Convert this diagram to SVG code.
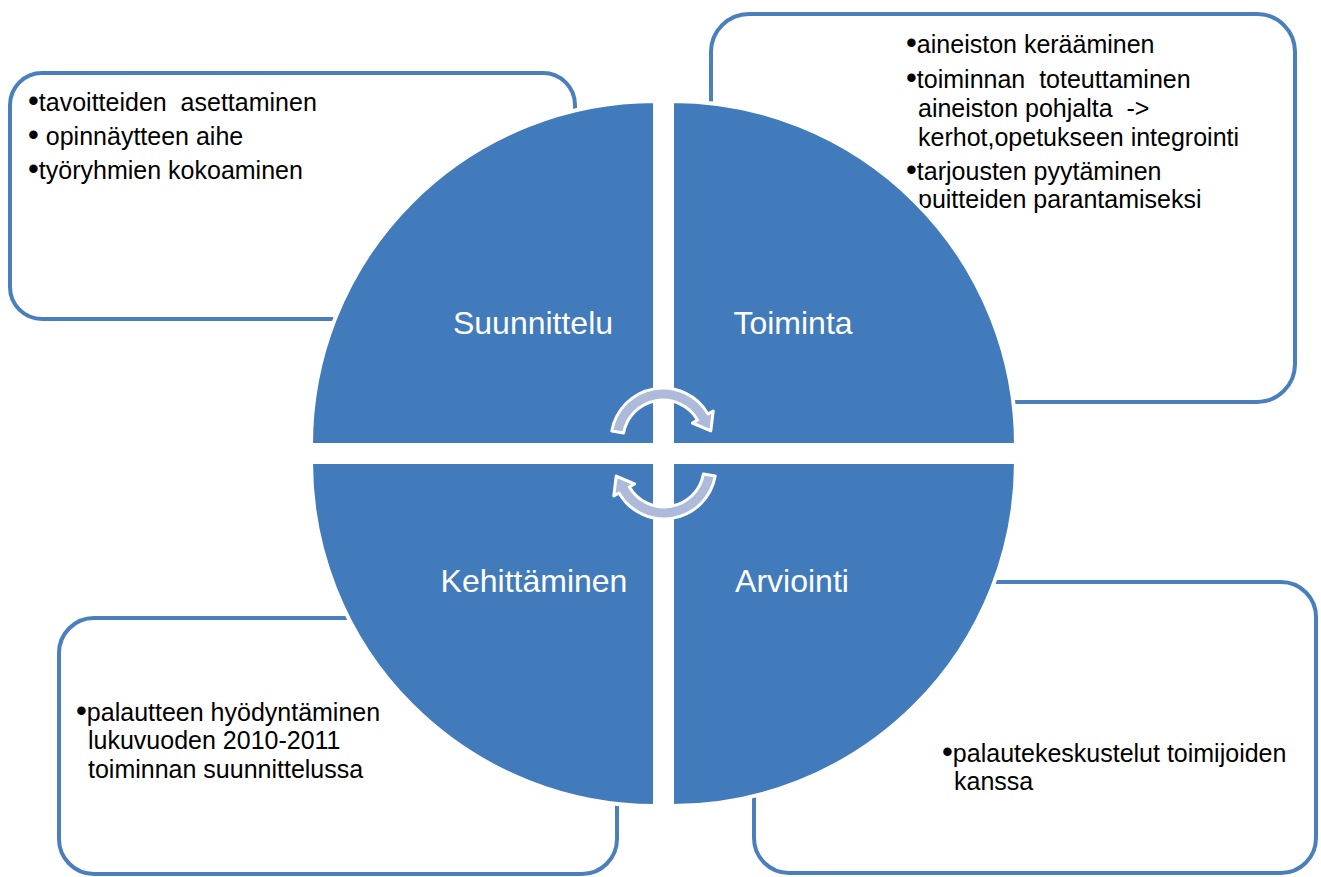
<svg xmlns="http://www.w3.org/2000/svg" width="1321" height="877" viewBox="0 0 1321 877">
<style>
.box{fill:#fff;stroke:#4a7ebc;stroke-width:4}
.q{fill:#427bbb;stroke:#fff;stroke-width:4}
.t{font-family:"Liberation Sans",Arial,sans-serif;font-size:25px;fill:#000}
.b{font-size:31px}
.lbl{font-family:"Liberation Sans",Arial,sans-serif;font-size:32px;fill:#fff;text-anchor:middle}
.arr{fill:#adbad9;stroke:#fff;stroke-width:3;stroke-linejoin:round}
</style>
<rect width="1321" height="877" fill="#fff"/>
<g id="box-suunnittelu">
<rect class="box" x="10" y="73" width="565" height="246" rx="32"/>
<text class="t" xml:space="preserve" x="28" y="111"><tspan class="b">•</tspan>tavoitteiden  asettaminen</text>
<text class="t" xml:space="preserve" x="28" y="145"><tspan class="b">•</tspan> opinnäytteen aihe</text>
<text class="t" xml:space="preserve" x="28" y="179"><tspan class="b">•</tspan>työryhmien kokoaminen</text>
</g>
<g id="box-toiminta">
<rect class="box" x="711" y="14" width="584" height="388" rx="38"/>
<text class="t" xml:space="preserve" x="906" y="53"><tspan class="b">•</tspan>aineiston kerääminen</text>
<text class="t" xml:space="preserve" x="906" y="88"><tspan class="b">•</tspan>toiminnan  toteuttaminen</text>
<text class="t" xml:space="preserve" x="918" y="117">aineiston pohjalta  -&gt;</text>
<text class="t" xml:space="preserve" x="918" y="146">kerhot,opetukseen integrointi</text>
<text class="t" xml:space="preserve" x="906" y="180"><tspan class="b">•</tspan>tarjousten pyytäminen</text>
<text class="t" xml:space="preserve" x="918" y="208">puitteiden parantamiseksi</text>
</g>
<g id="box-kehittaminen">
<rect class="box" x="59" y="618" width="558" height="256" rx="35"/>
<text class="t" xml:space="preserve" x="76" y="721"><tspan class="b">•</tspan>palautteen hyödyntäminen</text>
<text class="t" xml:space="preserve" x="88" y="749">lukuvuoden 2010-2011</text>
<text class="t" xml:space="preserve" x="88" y="778">toiminnan suunnittelussa</text>
</g>
<g id="box-arviointi">
<rect class="box" x="754" y="582" width="562" height="291" rx="35"/>
<text class="t" xml:space="preserve" x="942" y="762"><tspan class="b">•</tspan>palautekeskustelut toimijoiden</text>
<text class="t" xml:space="preserve" x="954" y="790">kanssa</text>
</g>
<g id="q-suunnittelu">
<path class="q" d="M655,445 L311,445 A344,344 0 0 1 655,101 Z"/>
<text class="lbl" x="533" y="334">Suunnittelu</text>
</g>
<g id="q-toiminta">
<path class="q" d="M672,445 L672,101 A344,344 0 0 1 1016,445 Z"/>
<text class="lbl" x="793" y="334">Toiminta</text>
</g>
<g id="q-arviointi">
<path class="q" d="M672,462 L1016,462 A344,344 0 0 1 672,806 Z"/>
<text class="lbl" x="792" y="592">Arviointi</text>
</g>
<g id="q-kehittaminen">
<path class="q" d="M655,462 L655,806 A344,344 0 0 1 311,462 Z"/>
<text class="lbl" x="534" y="592">Kehittäminen</text>
</g>
<g id="connectors">
<path class="arr" d="M611.8,431 A52,52 0 0 1 708,414 L713.2,411 L710.8,430.9 L692.4,423 L697.6,420 A40,40 0 0 0 623.6,433.1 Z"/>
<path class="arr" transform="rotate(180 663.5 453.5)" d="M611.8,431 A52,52 0 0 1 708,414 L713.2,411 L710.8,430.9 L692.4,423 L697.6,420 A40,40 0 0 0 623.6,433.1 Z"/>
</g>
</svg>
